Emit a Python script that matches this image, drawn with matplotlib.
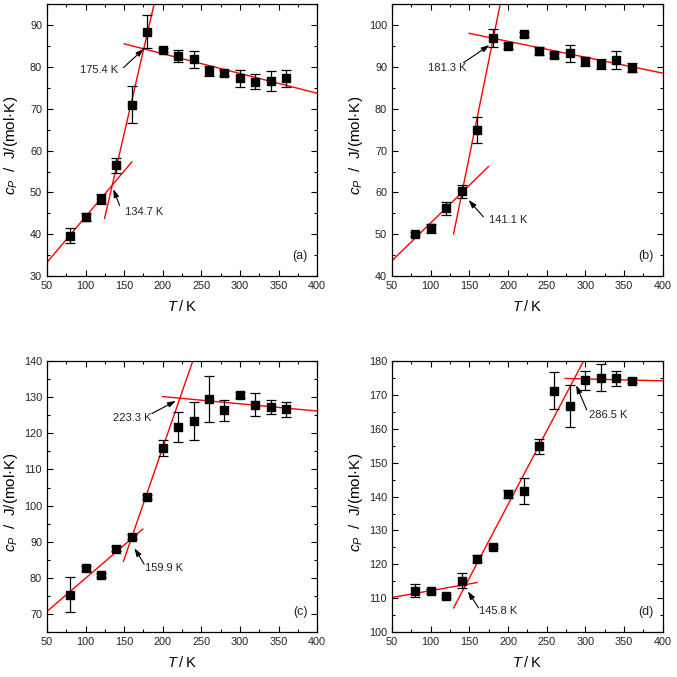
import matplotlib
matplotlib.use("Agg")
import matplotlib.pyplot as plt
from matplotlib.ticker import MultipleLocator

plt.rcParams['font.family'] = ['Liberation Sans', 'DejaVu Sans']
plt.rcParams['mathtext.fontset'] = 'custom'
plt.rcParams['mathtext.it'] = 'Liberation Sans:italic'
plt.rcParams['mathtext.rm'] = 'Liberation Sans'

T = [80, 100, 120, 140, 160, 180, 200, 220, 240, 260, 280, 300, 320, 340, 360]

# panel (a)
cp_a = [39.7, 44.2, 48.4, 56.5, 71.0, 88.4, 84.0, 82.6, 81.8, 79.1, 78.6, 77.3, 76.5, 76.6, 77.3]
err_a = [1.8, 1.0, 1.2, 1.8, 4.4, 4.0, 0.5, 1.5, 2.1, 1.2, 0.7, 2.0, 1.7, 2.3, 2.0]
# panel (b)
cp_b = [50.0, 51.4, 56.2, 60.3, 74.9, 96.9, 95.0, 97.8, 93.8, 92.8, 93.2, 91.3, 90.6, 91.6, 89.8]
err_b = [0.5, 1.0, 1.5, 1.5, 3.2, 2.1, 0.8, 0.6, 1.0, 0.6, 2.0, 1.1, 1.2, 2.1, 1.1]
# panel (c)
cp_c = [75.3, 82.6, 80.8, 88.1, 91.4, 102.3, 115.9, 121.8, 123.4, 129.5, 126.4, 130.6, 128.0, 127.4, 126.7]
err_c = [4.9, 0.6, 0.6, 0.6, 0.6, 0.6, 2.2, 4.2, 5.3, 6.4, 2.9, 0.8, 3.1, 1.9, 2.1]
# panel (d)
cp_d = [112.2, 112.2, 110.5, 115.2, 121.6, 125.2, 140.7, 141.7, 154.8, 171.3, 166.7, 174.3, 175.1, 174.9, 174.2]
err_d = [2.0, 0.6, 0.5, 2.3, 1.0, 0.5, 1.2, 3.8, 2.2, 5.4, 6.2, 2.9, 4.0, 2.1, 0.7]

# fitted line segments: (T start, T end), (cp start, cp end)
fits_a = [((50, 160), (33.3, 57.3)), ((124.6, 188.8), (43.8, 95.0)), ((150, 400), (85.5, 73.7))]
fits_b = [((50, 174.8), (43.7, 66.2)), ((129.6, 189.9), (50.1, 105.0)), ((149.9, 400), (98.0, 88.5))]
fits_c = [((50, 174.1), (70.7, 93.5)), ((149.1, 238.8), (84.6, 140.0)), ((199.6, 400), (130.2, 126.2))]
fits_d = [((50, 159.8), (110.2, 114.6)), ((129.6, 297.5), (107.1, 180.0)), ((273.8, 400), (174.9, 174.2))]

# annotations: text, text position, arrow tail, arrow tip
notes_a = [("175.4 K", (118, 79.2), (149, 79.8), (175.4, 84.3)),
           ("134.7 K", (176, 45.4), (144, 46.9), (136, 50.8))]
notes_b = [("181.3 K", (121, 89.8), (142.5, 91.0), (176, 95.2)),
           ("141.1 K", (200.7, 53.4), (168, 54.2), (149, 58.2))]
notes_c = [("223.3 K", (160, 124.3), (185.8, 125.5), (217, 129.0)),
           ("159.9 K", (201.7, 82.7), (175.9, 83.8), (163.4, 88.2))]
notes_d = [("286.5 K", (329.8, 164.1), (301.8, 165.6), (288, 172.9)),
           ("145.8 K", (187.8, 106.1), (162, 107.1), (148, 112.0))]

ylims = [(30, 95), (40, 105), (65, 140), (100, 180)]
labels = ["(a)", "(b)", "(c)", "(d)"]
positions = [[0.0694, 0.592, 0.399, 0.402], [0.579, 0.592, 0.400, 0.402],
             [0.0694, 0.0665, 0.399, 0.400], [0.579, 0.0665, 0.400, 0.400]]

fig = plt.figure(figsize=(6.77, 6.77), dpi=100)

panels = [(cp_a, err_a, fits_a, notes_a), (cp_b, err_b, fits_b, notes_b),
          (cp_c, err_c, fits_c, notes_c), (cp_d, err_d, fits_d, notes_d)]

for i, (cp, err, fits, notes) in enumerate(panels):
    ax = fig.add_axes(positions[i])
    for xs, ys in fits:
        ax.plot(xs, ys, color='red', lw=1.0, zorder=2)
    ax.errorbar(T, cp, yerr=err, fmt='s', color='black', ms=5.8, capsize=3.5,
                elinewidth=0.9, capthick=0.9, zorder=3)
    for txt, tpos, tail, tip in notes:
        ax.text(tpos[0], tpos[1], txt, fontsize=8, ha='center', va='center',
                color='#222222')
        ax.annotate("", xy=tip, xytext=tail,
                    arrowprops=dict(arrowstyle='-|>,head_length=0.6,head_width=0.2',
                                    color='black', lw=0.8,
                                    mutation_scale=8, shrinkA=0, shrinkB=0))
    ax.set_xlim(50, 400)
    ax.set_ylim(*ylims[i])
    ax.xaxis.set_major_locator(MultipleLocator(50))
    ax.xaxis.set_minor_locator(MultipleLocator(25))
    ax.yaxis.set_major_locator(MultipleLocator(10))
    ax.yaxis.set_minor_locator(MultipleLocator(5))
    ax.tick_params(which='both', direction='in', top=True, right=True,
                   labelsize=7.8, width=0.8, labelcolor='#222222')
    ax.tick_params(which='major', length=4)
    ax.tick_params(which='minor', length=2)
    for s in ax.spines.values():
        s.set_linewidth(0.9)
    ax.set_xlabel("$T$\u2009/\u2009K", fontsize=10.5, labelpad=6)
    ax.set_ylabel("$c_P$  /  J/(mol·K)", fontsize=11)
    ax.yaxis.set_label_coords(-0.10, 0.48)
    ax.text(0.965, 0.075, labels[i], transform=ax.transAxes, fontsize=9,
            ha='right', va='center', color='#222222')

fig.savefig("out.png", dpi=100)
